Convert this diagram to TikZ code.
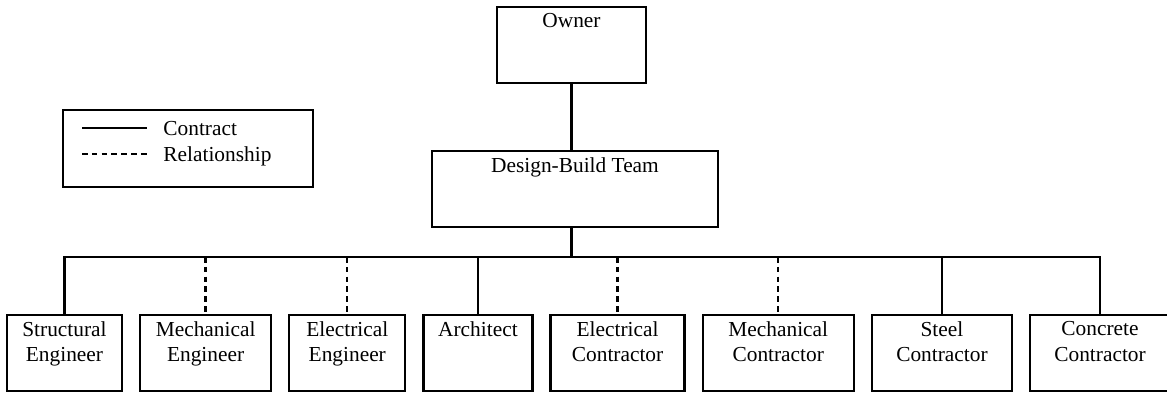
\documentclass[tikz,border=0pt]{standalone}
\usepackage{fontspec}
\setmainfont{Liberation Serif}
\usetikzlibrary{positioning}

\begin{document}
\begin{tikzpicture}[
        x=0.468pt, y=-0.468pt,
        node distance=8.5pt,
        box/.style={draw, line width=1.1pt, minimum height=35.6pt, inner sep=0pt, outer sep=0pt, anchor=north west},
        txt/.style={anchor=north, align=center, inner sep=2.8pt},
        contract/.style={line width=1.1pt},
        relation/.style={line width=1.1pt, dash pattern=on 2.6pt off 2pt}
        ]
        \useasboundingbox (0,0) rectangle (1167,395);

        % legend
        \node[box, minimum width=117pt, minimum height=36pt] (legend) at (63,110) {};
        \node[anchor=base west, inner sep=0pt] (ctr) at (163,135) {Contract};
        \node[anchor=base west, inner sep=0pt] (rel) at (163,161) {Relationship};
        \coordinate (ca) at (82,128);
        \coordinate (ra) at (82,154);
        \draw[contract] (ca) -- +(65,0);
        \draw[relation] (ra) -- +(65,0);

        % top
        \node[box, anchor=north, minimum width=69.7pt, label={[txt]north:Owner}] (owner) at (571.5,7) {};
        \node[box, anchor=north, minimum width=133.8pt, label={[txt]north:Design-Build Team}] (db) at (575,151) {};

        % bottom row
        \node[box, minimum width=53.8pt, label={[txt]north:Structural\\Engineer}] (seng) at (7,315) {};
        \node[box, right=of seng, minimum width=61.3pt, label={[txt]north:Mechanical\\Engineer}] (meng) {};
        \node[box, right=of meng, minimum width=54.3pt, label={[txt]north:Electrical\\Engineer}] (eeng) {};
        \node[box, right=of eeng, minimum width=51.0pt, label={[txt]north:Architect}] (arch) {};
        \node[box, right=of arch, minimum width=62.7pt, label={[txt]north:Electrical\\Contractor}] (econ) {};
        \node[box, right=of econ, minimum width=70.7pt, label={[txt]north:Mechanical\\Contractor}] (mcon) {};
        \node[box, right=of mcon, minimum width=65.5pt, label={[txt]north:Steel\\Contractor}] (steel) {};
        \node[box, right=of steel, minimum width=65.5pt, label={[txt]north:Concrete\\Contractor}] (conc) {};

        \coordinate (bus) at (0,257);

        \draw[contract] (owner.south) -- (db.north -| owner.south);
        \draw[contract] (db.south -| owner.south) -- (bus -| owner.south);
        \draw[contract] (seng.north) -- (seng.north |- bus) -- (conc.north |- bus) -- (conc.north);
        \draw[contract] (arch.north) -- (arch.north |- bus);
        \draw[contract] (steel.north) -- (steel.north |- bus);
        \draw[relation] (meng.north |- bus) -- (meng.north);
        \draw[relation] (eeng.north |- bus) -- (eeng.north);
        \draw[relation] (econ.north |- bus) -- (econ.north);
        \draw[relation] (mcon.north |- bus) -- (mcon.north);
    \end{tikzpicture}
\end{document}
